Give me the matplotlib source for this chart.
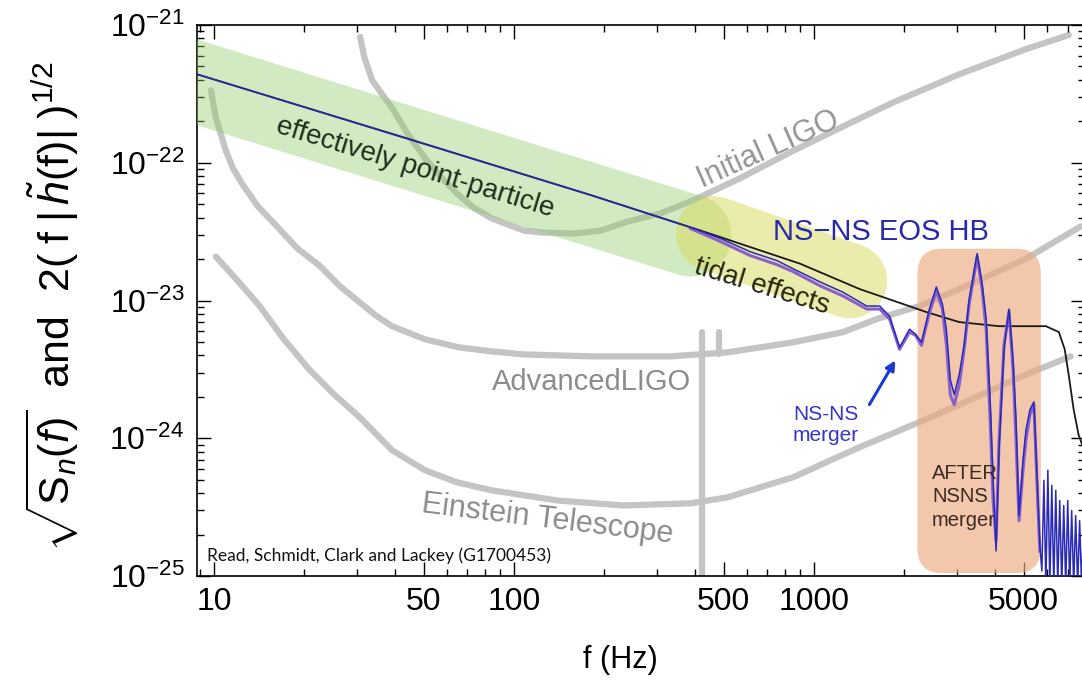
import numpy as np
import matplotlib
matplotlib.use("Agg")
import matplotlib.pyplot as plt
from matplotlib.patches import FancyBboxPatch
from matplotlib.ticker import FixedLocator, FixedFormatter, LogLocator, NullFormatter

plt.rcParams['font.family'] = ['Liberation Sans', 'DejaVu Sans']
plt.rcParams['mathtext.fontset'] = 'custom'
plt.rcParams['mathtext.rm'] = 'Liberation Sans'
plt.rcParams['mathtext.it'] = 'Liberation Sans:italic'
plt.rcParams['mathtext.bf'] = 'Liberation Sans:bold'

# %% detector noise curves (f in Hz, amplitude)
init_ligo_f = [30.7, 31.7, 33.7, 36.4, 39.2, 44.0, 50.5, 57.5, 65.5, 74, 84.2, 108, 123, 159, 195,
               240, 308, 397, 568, 852, 1286, 1828, 3050, 5085, 7063]
init_ligo_h = [8.2e-22, 5.83e-22, 3.96e-22, 3.13e-22, 2.51e-22, 1.65e-22, 1.08e-22, 7.73e-23,
               5.81e-23, 4.67e-23, 3.95e-23, 3.22e-23, 3.12e-23, 3.06e-23, 3.22e-23, 3.75e-23,
               4.29e-23, 5.35e-23, 7.73e-23, 1.22e-22, 1.89e-22, 2.73e-22, 4.39e-22, 6.68e-22,
               8.45e-22]

adv_ligo_f = [9.77, 10.15, 10.96, 11.56, 12.5, 14.0, 16.1, 19.0, 22.5, 26.2, 30.5, 34.5, 39.2,
              50.5, 65.5, 84.2, 108, 181, 333, 514, 852, 1248, 1618, 2247, 3050, 5085, 7745]
adv_ligo_h = [3.35e-22, 2.12e-22, 1.22e-22, 9.15e-23, 6.88e-23, 4.83e-23, 3.51e-23, 2.38e-23,
              1.79e-23, 1.28e-23, 9.75e-24, 7.83e-24, 6.51e-24, 5.23e-24, 4.57e-24, 4.27e-24,
              4.06e-24, 3.93e-24, 3.93e-24, 4.2e-24, 4.97e-24, 5.89e-24, 7.33e-24, 9.12e-24,
              1.21e-23, 2.01e-23, 3.45e-23]

et_f = [10.15, 12.0, 14.2, 16.9, 20.8, 25.2, 30.5, 39.2, 50.5, 64.5, 84.2, 140, 232, 388, 514,
        852, 1421, 2247, 3050, 5085, 7170]
et_h = [2.08e-23, 1.39e-23, 9.12e-24, 5.41e-24, 3.15e-24, 2.07e-24, 1.43e-24, 8.2e-25, 5.86e-25,
        4.79e-25, 4.19e-25, 3.53e-25, 3.25e-25, 3.37e-25, 3.72e-25, 5.21e-25, 8.63e-25, 1.31e-24,
        1.75e-24, 2.9e-24, 3.93e-24]

vline_f = [423, 482]
vline_top = [5.89e-24, 5.89e-24]
vline_bottom = [8e-26, 4.06e-24]

# %% point-particle model
pp_f = [8.78, 42.4, 181, 419, 899, 1421, 2371, 3050, 4140, 5929, 6550, 6852, 7063, 7340, 7622, 8000]
pp_h = [4.39e-22, 1.54e-22, 5.81e-23, 3.22e-23, 1.85e-23, 1.21e-23, 8.24e-24, 6.97e-24, 6.51e-24,
        6.51e-24, 5.9e-24, 4.42e-24, 2.9e-24, 1.61e-24, 1.06e-24, 7.9e-25]

# %% NS-NS waveform (EOS HB)
ns_f = [8.78, 181, 388, 488, 613, 754, 852, 1047, 1248, 1499, 1656, 1787, 1929, 2082, 2180, 2282,
        2425, 2558, 2679, 2762, 2847, 2935, 3050, 3168, 3291, 3499, 3635, 3749, 3866, 3955, 4046,
        4140, 4302, 4469, 4608, 4715, 4825, 4974, 5090, 5247, 5408, 5533, 5662, 5750,
        5840, 5929, 6020, 6113, 6205, 6300, 6397, 6495, 6595, 6697, 6800, 6904, 7012, 7120,
        7228, 7340, 7452, 7567, 7683, 7800, 7920, 8040]
ns_h = [4.39e-22, 5.81e-23, 3.39e-23, 2.82e-23, 2.26e-23, 1.945e-23, 1.7e-23, 1.365e-23, 1.15e-23,
        9.12e-24, 9.12e-24, 7.7e-24, 4.57e-24, 6.19e-24, 5.69e-24, 4.97e-24, 8.67e-24, 1.255e-23,
        9.43e-24, 6.19e-24, 2.67e-24, 2.07e-24, 2.9e-24, 4.81e-24, 1.026e-23, 2.19e-23, 1.32e-23,
        7.32e-24, 1.9e-24, 4.95e-25, 1.52e-25, 8.2e-25, 4.42e-24, 8.67e-24, 3.73e-24, 1.36e-24,
        2.75e-25, 6.93e-25, 1.15e-24, 1.61e-24, 1.84e-24, 5.86e-25, 1.66e-25, 1.09e-25,
        4.95e-25, 8.45e-26, 5.86e-25, 8.45e-26, 4.55e-25, 8.45e-26, 4.18e-25, 8.45e-26, 3.53e-25,
        8.45e-26, 3.25e-25, 8.45e-26, 3.53e-25, 8.45e-26, 2.99e-25, 8.45e-26, 2.75e-25, 8.45e-26,
        2.52e-25, 8.45e-26, 2.6e-25, 8.45e-26]

ns2_f = [388, 488, 613, 754, 852, 1047, 1248, 1499, 1656, 1787, 1929, 2082, 2180, 2282, 2425, 2558,
         2679, 2762, 2847, 2935, 3050, 3168, 3291, 3499, 3635, 3749, 3866, 3955, 4046, 4140, 4302,
         4469, 4608, 4715, 4825, 4974, 5090, 5247, 5408, 5533, 5662]
ns2_h = [3.33e-23, 2.68e-23, 2.12e-23, 1.82e-23, 1.62e-23, 1.28e-23, 1.08e-23, 8.67e-24, 8.67e-24,
         7.32e-24, 4.42e-24, 5.89e-24, 5.59e-24, 4.73e-24, 8.1e-24, 1.17e-23, 8.67e-24, 4.81e-24,
         2.07e-24, 1.75e-24, 2.45e-24, 4.42e-24, 9.43e-24, 2.08e-23, 1.21e-23, 6.19e-24, 1.36e-24,
         3.53e-25, 1.8e-25, 9.71e-25, 4.81e-24, 8.38e-24, 3.15e-24, 9.71e-25, 2.52e-25, 5.86e-25,
         9.71e-25, 1.48e-24, 1.75e-24, 4.95e-25, 1.52e-25]

# %% shaded regions
pp_band_f = [7, 388]
pp_band_h = [4.47e-22, 2.96e-23]
tidal_band_f = [462, 1316]
tidal_band_h = [3.06e-23, 1.39e-23]
after_box_f = [2213, 5703]
after_box_h = [1.05e-25, 2.38e-23]

xticks = [10, 50, 100, 500, 1000, 5000]
xticklabels = ['10', '50', '100', '500', '1000', '5000']
yticks = [1e-25, 1e-24, 1e-23, 1e-22, 1e-21]

# %%
gray = '#c4c4c4'
fig = plt.figure(figsize=(10.82, 6.82), dpi=100)
ax = fig.add_axes([197 / 1082, 1 - 576 / 682, 888 / 1082, 551 / 682])
ax.set_xscale('log')
ax.set_yscale('log')
ax.set_xlim(8.78, 8006)
ax.set_ylim(1e-25, 1e-21)

for f, h in [(init_ligo_f, init_ligo_h), (adv_ligo_f, adv_ligo_h), (et_f, et_h)]:
    ax.plot(f, h, color=gray, lw=4.5, solid_capstyle='round', solid_joinstyle='round', zorder=1)
for f, top, bot in zip(vline_f, vline_top, vline_bottom):
    ax.plot([f, f], [top, bot], color=gray, lw=4.5, solid_capstyle='round', zorder=1)

to_axes = ax.transData + ax.transAxes.inverted()
(bx0, by0), (bx1, by1) = to_axes.transform(list(zip(after_box_f, after_box_h)))
box = FancyBboxPatch((bx0, by0), bx1 - bx0, by1 - by0, transform=ax.transAxes,
                     boxstyle='round,pad=0,rounding_size=0.028', mutation_aspect=888 / 551,
                     facecolor='#eda97e', edgecolor='none', alpha=0.65, zorder=2)
ax.add_patch(box)

ax.plot(pp_band_f, pp_band_h, color=(0.55, 0.8, 0.4), alpha=0.4, lw=59,
        solid_capstyle='round', zorder=3)
ax.plot(tidal_band_f, tidal_band_h, color=(0.85, 0.85, 0.35), alpha=0.5, lw=54,
        solid_capstyle='round', zorder=3)

ax.plot(pp_f, pp_h, color='#1a1a1a', lw=1.3, zorder=4)
ax.plot(ns2_f, ns2_h, color='#8a60cc', lw=2.2, zorder=5)
ax.plot(ns_f, ns_h, color='#2a2ab8', lw=1.1, zorder=6)

# %% ticks
ax.xaxis.set_major_locator(FixedLocator(xticks))
ax.xaxis.set_major_formatter(FixedFormatter(xticklabels))
ax.xaxis.set_minor_locator(LogLocator(base=10, subs=np.arange(2, 10) * 1.0, numticks=20))
ax.xaxis.set_minor_formatter(NullFormatter())
ax.yaxis.set_major_locator(FixedLocator(yticks))
ax.yaxis.set_minor_locator(LogLocator(base=10, subs=np.arange(2, 10) * 1.0, numticks=20))
ax.yaxis.set_minor_formatter(NullFormatter())
ax.tick_params(which='both', direction='in', top=True, right=True, width=1)
ax.tick_params(which='major', length=10, labelsize=23)
ax.tick_params(which='minor', length=5)
ax.tick_params(axis='x', which='major', pad=8)
ax.tick_params(axis='y', which='major', pad=9)
for s in ax.spines.values():
    s.set_linewidth(1.2)

# %% labels
fig.text(52 / 1082, 1 - 307 / 682,
         r'$\sqrt{\mathrm{S}_n(f)}$  and  $2(\;\mathrm{f}\;|\,\tilde{h}(\mathrm{f})|\;)^{1/2}$',
         rotation=90, ha='center', va='center', fontsize=31)
fig.text(620 / 1082, 1 - 660 / 682, 'f (Hz)', ha='center', va='center', fontsize=22)

ax.text(0.2455, 0.7405, 'effectively point-particle', transform=ax.transAxes, rotation=-17,
        rotation_mode='anchor', ha='center', va='center', fontsize=20, color='#1f2f1f', zorder=7)
ax.text(0.643, 0.773, 'Initial LIGO', transform=ax.transAxes, rotation=24,
        rotation_mode='anchor', ha='center', va='center', fontsize=22, color='#959595', zorder=7)
ax.text(0.770, 0.624, 'NS\u2212NS EOS HB', transform=ax.transAxes,
        ha='center', va='center', fontsize=21, color='#2a2aa8', zorder=7)
ax.text(0.636, 0.5245, 'tidal effects', transform=ax.transAxes, rotation=-17,
        rotation_mode='anchor', ha='center', va='center', fontsize=20, color='#26260e', zorder=7)
ax.text(0.4437, 0.352, 'AdvancedLIGO', transform=ax.transAxes,
        ha='center', va='center', fontsize=21, color='#8c8c8c', zorder=7)
ax.text(0.395, 0.1016, 'Einstein Telescope', transform=ax.transAxes, rotation=-7,
        rotation_mode='anchor', ha='center', va='center', fontsize=22, color='#8c8c8c', zorder=7)
ax.text(0.671, 0.274, 'NS-NS\nmerger', transform=ax.transAxes, ha='left', va='center',
        fontsize=15, color='#3535c8', linespacing=1.15, zorder=7)
ax.annotate('', xy=(0.788, 0.3956), xytext=(0.7556, 0.3067), xycoords='axes fraction',
            textcoords='axes fraction',
            arrowprops=dict(arrowstyle='-|>', color='#1a3ad0', lw=2.2, mutation_scale=14), zorder=7)
ax.text(0.8277, 0.1434, 'AFTER\nNSNS\nmerger', transform=ax.transAxes, ha='left', va='center',
        fontsize=14.5, color='#3b2b22', linespacing=1.3, zorder=7)
ax.text(0.0113, 0.0272, 'Read, Schmidt, Clark and Lackey (G1700453)', transform=ax.transAxes,
        ha='left', va='baseline', fontsize=12.5, family=['Lato', 'DejaVu Sans'], color='#111111',
        zorder=7)

fig.savefig('out.png', dpi=100, facecolor='white')
